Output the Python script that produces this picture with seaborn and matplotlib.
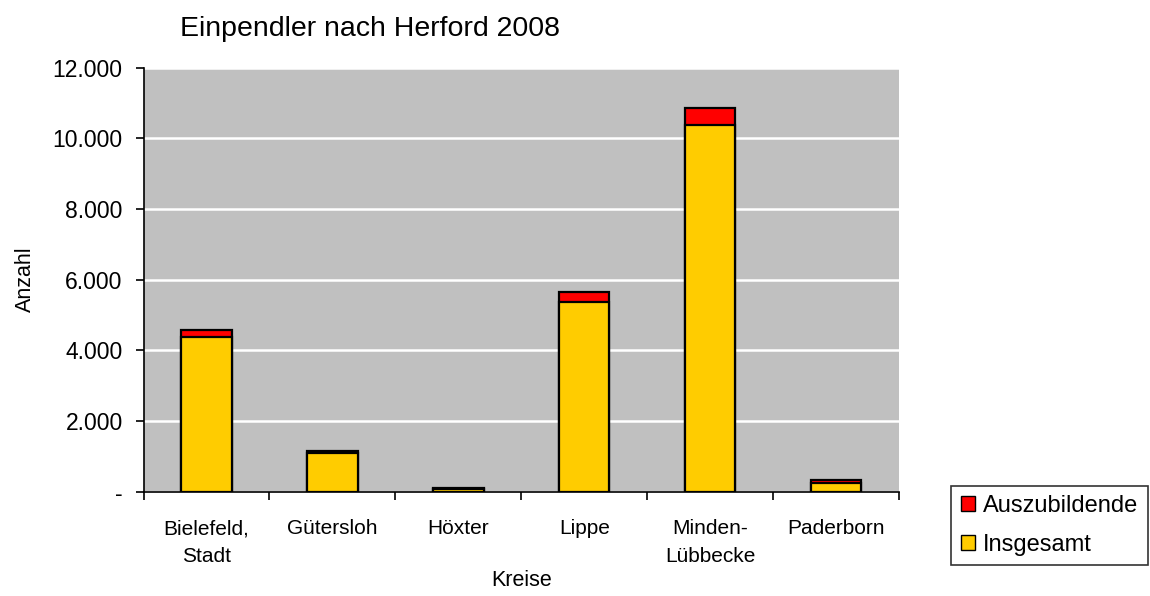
import matplotlib
matplotlib.use("Agg")
import matplotlib.pyplot as plt
import seaborn as sns
import pandas as pd
import numpy as np
from matplotlib.patches import Patch
from matplotlib.ticker import FuncFormatter, FixedLocator

kreise = ["Bielefeld,\nStadt", "Gütersloh", "Höxter", "Lippe", "Minden-\nLübbecke", "Paderborn"]
insgesamt = [4380, 1090, 90, 5360, 10370, 260]
auszubildende = [190, 65, 20, 290, 485, 80]
y_ticks = [0, 2000, 4000, 6000, 8000, 10000, 12000]

title = "Einpendler nach Herford 2008"
x_label = "Kreise"
y_label = "Anzahl"
legend_labels = ["Auszubildende", "Insgesamt"]

sns.set_theme(style="white")
plt.rcParams['font.family'] = ['Liberation Sans', 'DejaVu Sans']
plt.rcParams['text.color'] = 'black'
plt.rcParams['axes.labelcolor'] = 'black'
plt.rcParams['xtick.color'] = 'black'
plt.rcParams['ytick.color'] = 'black'

df = pd.DataFrame({"Kreis": kreise, "Insgesamt": insgesamt, "Auszubildende": auszubildende})
df["Gesamt"] = df["Insgesamt"] + df["Auszubildende"]

fig = plt.figure(figsize=(11.5, 5.96), dpi=100)
ax = fig.add_axes([0.1248, 0.175, 0.657, 0.7117])
ax.set_facecolor("#C0C0C0")

red = "#FF0000"
yellow = "#FFCC00"
sns.barplot(data=df, x="Kreis", y="Gesamt", color=red, saturation=1, width=0.4,
            edgecolor="black", linewidth=1.6, ax=ax, zorder=3)
sns.barplot(data=df, x="Kreis", y="Insgesamt", color=yellow, saturation=1, width=0.4,
            edgecolor="black", linewidth=1.6, ax=ax, zorder=4)

ax.set_xlim(-0.5, len(kreise) - 0.5)
ax.set_ylim(0, 12000)
ax.set_yticks(y_ticks)
ax.yaxis.set_major_formatter(FuncFormatter(lambda v, p: "-" if v == 0 else f"{v:,.0f}".replace(",", ".")))
ax.grid(axis="y", color="white", linewidth=1.8, zorder=0)
ax.set_axisbelow(True)

for s in ["top", "right"]:
    ax.spines[s].set_visible(False)
for s in ["left", "bottom"]:
    ax.spines[s].set_color("black")
    ax.spines[s].set_linewidth(1.2)

ax.set_xticks(range(len(kreise)))
ax.set_xticklabels(kreise, fontsize=15, linespacing=1.55)
ax.xaxis.set_minor_locator(FixedLocator(np.arange(-0.5, len(kreise), 1.0)))
ax.tick_params(axis="x", which="major", length=0, pad=20)
ax.tick_params(axis="x", which="minor", length=6, width=1.2, color="black", direction="out", bottom=True)
ax.tick_params(axis="y", which="major", length=6, width=1.2, color="black", direction="out", left=True,
               labelsize=16.5, pad=9)

ax.set_xlabel(x_label, fontsize=15.5, labelpad=3)
ax.set_ylabel(y_label, fontsize=15.5, labelpad=12)

fig.text(180 / 1150, 1 - 29 / 596, title, fontsize=20.5, ha="left", va="center")

handles = [Patch(facecolor=red, edgecolor="black", label=legend_labels[0]),
           Patch(facecolor=yellow, edgecolor="black", label=legend_labels[1])]
leg = fig.legend(handles=handles, loc="lower right", bbox_to_anchor=(0.998, 0.052),
                 fontsize=17, frameon=True, fancybox=False, handlelength=0.6, handleheight=0.6,
                 handletextpad=0.35, borderpad=0.4, labelspacing=0.7, borderaxespad=0)
leg.get_frame().set_edgecolor("black")
leg.get_frame().set_linewidth(1.2)

fig.savefig("out.png", dpi=100)
